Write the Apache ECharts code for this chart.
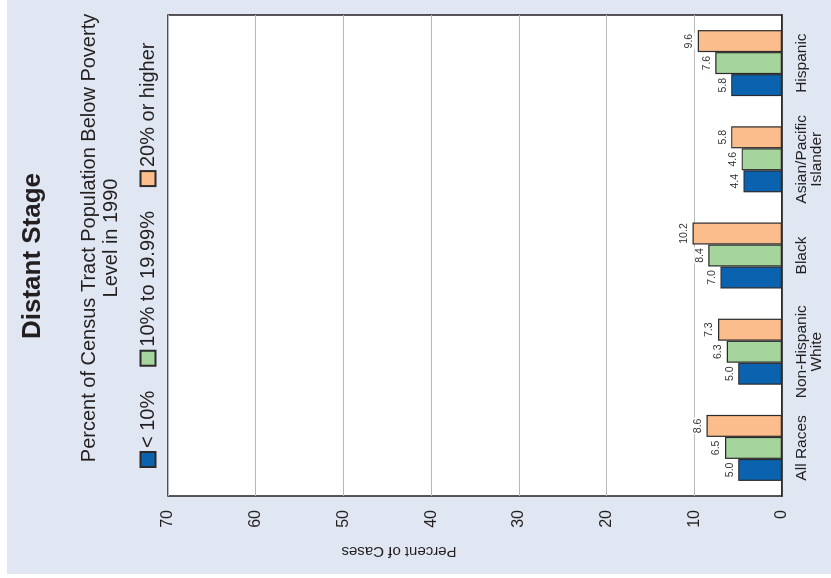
<!DOCTYPE html>
<html>
<head>
<meta charset="utf-8">
<script src="https://cdn.jsdelivr.net/npm/echarts@6/dist/echarts.min.js"></script>
<style>
    html, body { margin: 0; padding: 0; background: #fff; }
    #wrap { position: relative; width: 831px; height: 578px; overflow: hidden; }
    #panel { position: absolute; left: 7px; top: 0; width: 824px; height: 574px; background: #e0e7f3; }
    /* chart is laid out upright, then turned a quarter turn to the left */
    #chart {
        position: absolute; left: 0; top: 0; width: 578px; height: 831px;
        transform-origin: 0 0;
        transform: translate(0, 578px) rotate(-90deg);
    }
</style>
</head>
<body>
<div id="wrap">
    <div id="panel"></div>
    <div id="chart"></div>
</div>
<script>
var categories = ['All Races', 'Non-Hispanic\nWhite', 'Black', 'Asian/Pacific\nIslander', 'Hispanic'];
var seriesNames = ['< 10%', '10% to 19.99%', '20% or higher'];
var below10 = [5.0, 5.0, 7.0, 4.4, 5.8];
var from10to20 = [6.5, 6.3, 8.4, 4.6, 7.6];
var above20 = [8.6, 7.3, 10.2, 5.8, 9.6];
var colors = ['#0b63b0', '#a5d49d', '#fbbd8b'];

var font = "'Liberation Sans', Arial, sans-serif";
var ink = '#231f20';

function barSeries(name, data, color) {
    return {
        name: name,
        type: 'bar',
        data: data,
        barWidth: 22,
        barGap: '0%',
        itemStyle: { color: color, borderColor: '#2b2b2b', borderWidth: 1.2 },
        label: {
            show: true,
            position: 'top',
            distance: 3,
            fontFamily: font,
            fontSize: 10.5,
            color: '#333',
            backgroundColor: '#fff',
            padding: [0, 1],
            formatter: function (p) { return p.value.toFixed(1); }
        }
    };
}

var chart = echarts.init(document.getElementById('chart'));
var options = {
    animation: false,
    textStyle: { fontFamily: font, color: ink },
    graphic: [
        {
            type: 'text', x: 322, y: 33,
            style: { text: 'Distant Stage', font: 'bold 26px ' + font, fill: ink, align: 'center', verticalAlign: 'middle' }
        },
        {
            type: 'text', x: 340, y: 100,
            style: {
                text: 'Percent of Census Tract Population Below Poverty\nLevel in 1990',
                font: '20px ' + font, lineHeight: 22, fill: ink, align: 'center', verticalAlign: 'middle'
            }
        },
        {
            type: 'text', x: 27, y: 399, rotation: Math.PI / 2,
            style: { text: 'Percent of Cases', font: '15px ' + font, fill: ink, align: 'center', verticalAlign: 'middle' }
        }
    ],
    legend: {
        left: 110,
        top: 138,
        padding: 0,
        itemWidth: 15,
        itemHeight: 15,
        itemGap: 24,
        icon: 'rect',
        textStyle: { fontFamily: font, fontSize: 20, color: ink, padding: [0, 0, 0, -1] },
        data: seriesNames
    },
    grid: {
        left: 82, right: 15, top: 168, bottom: 49,
        show: true,
        backgroundColor: '#fff',
        borderColor: ink,
        borderWidth: 1.5
    },
    xAxis: {
        type: 'category',
        data: categories,
        axisLine: { lineStyle: { color: ink, width: 1.5 } },
        axisTick: { show: false },
        axisLabel: { fontFamily: font, fontSize: 15.5, color: ink, margin: 12, lineHeight: 15, interval: 0 }
    },
    yAxis: {
        type: 'value',
        min: 0, max: 70, interval: 10,
        axisLine: { show: false },
        axisTick: { show: false },
        axisLabel: { fontFamily: font, fontSize: 16, color: ink, margin: 14 },
        splitLine: { lineStyle: { color: '#b8b8b8', width: 1 } }
    },
    series: [
        barSeries(seriesNames[0], below10, colors[0]),
        barSeries(seriesNames[1], from10to20, colors[1]),
        barSeries(seriesNames[2], above20, colors[2])
    ]
};
chart.setOption(options);
</script>
</body>
</html>
